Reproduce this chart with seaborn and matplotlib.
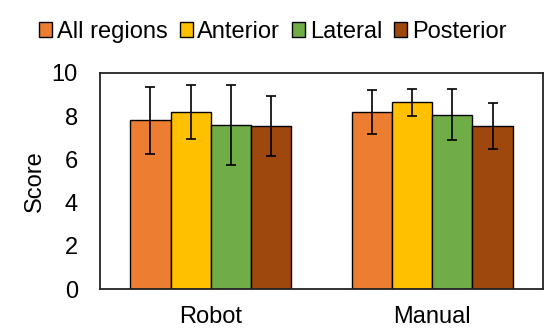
import pandas as pd
import matplotlib.pyplot as plt
import seaborn as sns

# Data
groups = ["Robot", "Manual"]
regions = ["All regions", "Anterior", "Lateral", "Posterior"]
robot_mean = [7.8, 8.2, 7.6, 7.55]
robot_sd = [1.55, 1.25, 1.85, 1.38]
manual_mean = [8.2, 8.65, 8.07, 7.55]
manual_sd = [1.03, 0.62, 1.17, 1.08]
colors = ["#ED7D31", "#FFC000", "#70AD47", "#9E480E"]

rows = []
for g, means, sds in [("Robot", robot_mean, robot_sd), ("Manual", manual_mean, manual_sd)]:
    for r, m, s in zip(regions, means, sds):
        rows.append({"group": g, "region": r, "score": m, "sd": s})
df = pd.DataFrame(rows)

sns.set_style("white")
plt.rcParams["font.family"] = ["Liberation Sans", "DejaVu Sans"]
plt.rcParams["text.color"] = "black"
plt.rcParams["axes.labelcolor"] = "black"
plt.rcParams["xtick.color"] = "black"
plt.rcParams["ytick.color"] = "black"

fig = plt.figure(figsize=(5.44, 3.33), dpi=100)
ax = fig.add_axes([0.184, 0.132, 0.814, 0.649])

sns.barplot(data=df, x="group", y="score", hue="region", order=groups,
            hue_order=regions, palette=colors, errorbar=None, width=0.727,
            saturation=1, edgecolor="black", linewidth=1, ax=ax)

# Error bars on each bar, positions taken from the drawn bars
for region, cont in zip(regions, ax.containers):
    sub = df[df["region"] == region].set_index("group").loc[groups]
    xs = [p.get_x() + p.get_width() / 2 for p in cont.patches]
    ax.errorbar(xs, sub["score"], yerr=sub["sd"], fmt="none", ecolor="black",
                elinewidth=1.2, capsize=3.5, capthick=1.2)

ax.set_ylim(0, 10)
ax.set_xlim(-0.5, 1.5)
ax.set_yticks([0, 2, 4, 6, 8, 10])
ax.set_xlabel("")
ax.set_ylabel("Score", fontsize=17, labelpad=4)
ax.tick_params(axis="both", labelsize=17, length=0)
ax.tick_params(axis="y", pad=16)
ax.tick_params(axis="x", pad=12)
for sp in ax.spines.values():
    sp.set_visible(True)
    sp.set_color("#222222")
    sp.set_linewidth(1.3)

ax.legend(loc="center", bbox_to_anchor=(0.39, 1.19), ncol=4, frameon=False,
          fontsize=17, handlelength=0.55, handleheight=0.55, handletextpad=0.2,
          columnspacing=0.5, borderaxespad=0)

fig.savefig("out.png", dpi=100)
